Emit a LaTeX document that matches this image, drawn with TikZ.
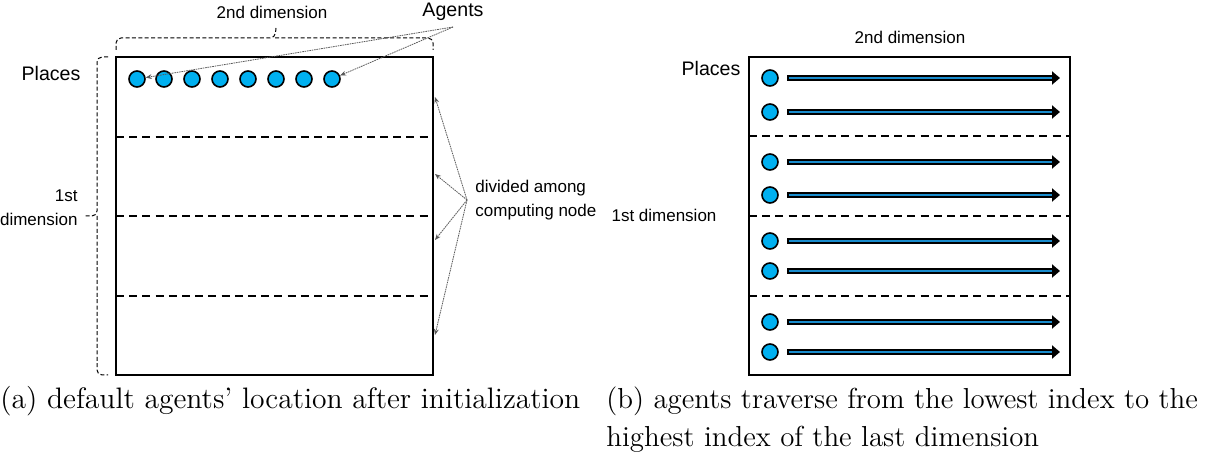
\documentclass[tikz,border=0pt]{standalone}
\usepackage{fontspec}
\newfontfamily\arial{Liberation Sans}
\usetikzlibrary{arrows.meta,calc}
\definecolor{agentcyan}{RGB}{0,176,240}
\definecolor{arrowblue}{RGB}{25,140,205}
\tikzset{
  agent/.style={circle,draw=black,line width=0.8pt,fill=agentcyan,minimum size=8pt,inner sep=0pt},
  gridbox/.style={draw=black,line width=1.1pt},
  divline/.style={draw=black,line width=0.9pt,dash pattern=on 4pt off 2.6pt},
  brace/.style={draw=black,line width=0.5pt,dash pattern=on 2pt off 1.2pt,rounded corners=2.5pt},
  pointer/.style={draw=black!65,line width=0.4pt,dash pattern=on 0.8pt off 0.4pt,-{Stealth[length=3pt,width=2.4pt]}},
  lbl/.style={font=\arial\fontsize{8.5}{12}\selectfont,inner sep=0pt},
  biglbl/.style={font=\arial\fontsize{9.8}{12}\selectfont,inner sep=0pt},
  caption/.style={font=\fontsize{14.8}{18.5}\selectfont,inner sep=0pt,align=left},
  captionb/.style={font=\fontsize{14.45}{18.5}\selectfont,inner sep=0pt,align=left},
  travout/.style={draw=black,line width=3pt,-{Triangle[length=4pt,width=6.5pt]}},
  travin/.style={draw=arrowblue,line width=1.3pt,shorten >=4pt,shorten <=0.9pt},
}
\begin{document}
\begin{tikzpicture}[x=0.5pt,y=-0.5pt]
\useasboundingbox (0,0) rectangle (1210,464);

% ---------------- left panel ----------------
\draw[gridbox] (116,57) rectangle (433,375);
\foreach \y in {137,216,296} \draw[divline] (116,\y) -- (433,\y);
\foreach \i/\x in {1/137,2/164,3/192,4/220,5/248,6/276,7/304,8/332}
  \node[agent] (a\i) at (\x,79) {};

% braces
\draw[brace] (116,50) |- (275,38) -- (276,28);
\draw[brace] (275,38) -| (433,50);
\draw[brace] (108,57) -| (97,216) -- (84,216);
\draw[brace] (97,216) |- (108,375);

\node[lbl] (dim2a) at (272,12) {2nd dimension};
\node[biglbl] (agents) at (453,12) {Agents};
\node[biglbl] (placesa) at (51,73) {Places};
\node[lbl,align=right,anchor=east] (dim1a) at (78,208) {1st\\dimension};
\node[lbl,align=left,anchor=west] (divided) at (475,200) {divided among\\computing node};

\coordinate (agsrc) at (453,27);
\draw[pointer] (agsrc) -- (a1);
\draw[pointer] (agsrc) -- (a8);

\coordinate (dvsrc) at (467,200);
\coordinate (t1) at (435,97);
\coordinate (t2) at (435,174);
\coordinate (t3) at (435,240);
\coordinate (t4) at (435,335);
\foreach \t in {t1,t2,t3,t4} \draw[pointer] (dvsrc) -- (\t);

% ---------------- right panel ----------------
\draw[gridbox] (749,57) rectangle (1070,375);
\foreach \y in {136,216,296} \draw[divline] (749,\y) -- (1070,\y);
\foreach \i/\y in {1/78,2/112,3/162,4/195,5/241,6/271,7/322,8/352}{
  \node[agent] (b\i) at (770,\y) {};
  \coordinate (s\i) at (787,\y);
  \coordinate (e\i) at (1060,\y);
  \draw[travout] (s\i) -- (e\i);
  \draw[travin] (s\i) -- (e\i);
}

\node[lbl] (dim2b) at (910,37) {2nd dimension};
\node[biglbl] (placesb) at (711,68) {Places};
\node[lbl] (dim1b) at (664,215) {1st dimension};

% ---------------- captions ----------------
\node[caption,anchor=base west] (capa) at (0,409) {(a) default agents' location after initialization};
\node[captionb,anchor=base west] (capb) at (606,409) {(b) agents traverse from the lowest index to the};
\node[captionb,anchor=base west] (capb2) at (606,446) {highest index of the last dimension};
\end{tikzpicture}
\end{document}
